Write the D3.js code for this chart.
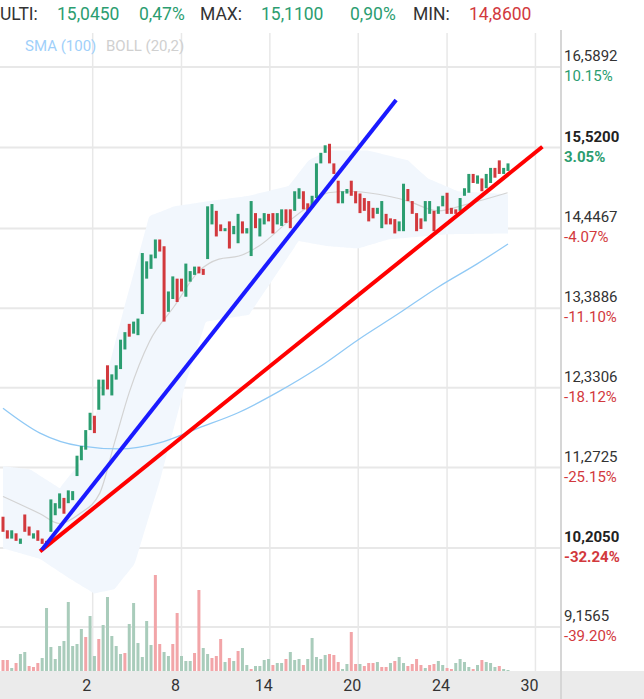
<!DOCTYPE html>
<html><head><meta charset="utf-8">
<script src="https://cdn.jsdelivr.net/npm/d3@7"></script>
<style>body{margin:0;background:#fff;font-family:Roboto,"Noto Sans",sans-serif}</style>
</head><body>
<svg id="c" width="644" height="699"></svg>
<script>
const opens=[10.62,10.44,10.33,10.40,10.26,10.65,10.49,10.33,10.44,10.33,10.30,10.42,10.64,10.73,10.87,10.80,10.84,11.16,11.37,11.51,11.77,11.96,12.04,12.23,12.63,12.23,12.44,12.58,12.84,13.18,13.05,13.03,13.31,13.78,13.91,14.05,14.30,14.21,13.34,13.51,13.78,13.78,13.54,13.74,13.83,13.94,13.91,14.04,14.50,14.68,14.50,14.41,14.54,14.37,14.25,14.54,14.38,14.08,14.65,14.34,14.50,14.64,14.65,14.50,14.48,14.70,14.70,14.68,14.84,14.94,14.78,14.72,14.85,15.31,15.45,15.57,15.31,15.08,14.78,14.91,15.08,14.94,14.91,14.85,14.81,14.72,14.64,14.45,14.64,14.58,14.57,14.41,14.41,14.97,14.81,14.65,14.58,14.54,14.64,14.68,14.64,14.74,14.92,14.72,14.70,14.68,14.88,14.92,15.17,15.04,15.11,14.98,15.05,15.25,15.35,15.17,15.21];
const closes=[10.42,10.33,10.44,10.30,10.33,10.42,10.37,10.40,10.30,10.26,10.24,10.85,10.80,10.93,10.66,10.97,10.96,11.43,11.56,11.77,12.00,11.73,12.44,12.44,12.31,12.51,12.63,12.97,13.07,13.01,13.21,13.25,14.12,14.01,14.10,14.30,14.14,13.21,13.61,13.81,13.47,13.61,13.98,13.88,13.94,13.85,13.83,14.74,14.77,14.34,14.41,14.45,14.18,14.48,14.64,14.38,14.45,14.81,14.45,14.58,14.65,14.54,14.38,14.65,14.70,14.52,14.45,14.94,14.98,14.70,14.68,14.88,15.31,15.45,15.55,15.31,15.17,14.78,14.94,14.97,14.88,14.78,14.65,14.68,14.54,14.58,14.72,14.81,14.50,14.50,14.38,14.54,15.04,14.81,14.64,14.41,14.44,14.81,14.81,14.41,14.74,14.88,14.64,14.64,14.64,14.85,14.98,15.17,15.05,15.15,14.94,15.17,15.25,15.12,15.17,15.25,15.31];
const volumes=[11,11,3,8,17,19,5,4,8,13,63,24,12,25,30,69,25,27,42,34,55,15,32,46,74,35,25,17,18,47,68,28,14,50,26,96,27,19,15,27,58,15,10,10,18,81,23,17,13,15,32,9,13,10,20,23,6,2,5,
5,11,12,6,8,8,12,19,11,12,6,12,33,14,12,16,17,16,9,2,7,39,7,7,5,8,8,9,4,4,8,10,14,8,5,7,12,6,3,6,7,10,6,3,2,8,12,9,4,2,6,11,9,8,4,5,2,1];
const volDir="rrgrggrrrggggggggggrggrgggggrggggggrrggrrgggrrggrrrgrgrggrgg"+"ggrggrgggrgggggrrrggrrgrrrgrrgrggrrrrgrrggrrggggrgrgggrggg";
const smaKnots=[[0,12.06],[8.5,11.73],[17.6,11.56],[26.7,11.52],[35.9,11.60],[45,11.80],[54,12.00],[63,12.27],[72.5,12.60],[81.6,12.97],[90.7,13.31],[100,13.67],[109,13.98],[116,14.24]];
const bollMid=[[0,10.89],[8.5,10.66],[13,10.53],[17.6,10.66],[22.2,10.93],[25.6,11.60],[29,12.27],[33.6,12.94],[39.3,13.41],[45,13.88],[49.6,14.04],[54.2,14.08],[58.7,14.21],[65.6,14.54],[70.2,14.74],[74.7,14.92],[79.3,14.94],[86.2,14.90],[93,14.81],[99.9,14.68],[106.7,14.77],[115.9,14.92]];
const bollUp=[[0,11.29],[6.2,11.25],[13,11.00],[17.6,11.33],[22.2,12.14],[27.9,13.41],[33.6,14.61],[39.3,14.74],[47.3,14.81],[56.5,14.88],[65.6,15.01],[70.2,15.35],[74.7,15.48],[83.9,15.48],[93,15.35],[97.6,15.11],[104.5,14.94],[115.9,14.90]];
const bollLow=[[0,10.20],[8.5,10.06],[15.3,9.80],[21,9.60],[25.6,9.66],[30.2,9.99],[35.9,11.07],[42,12.40],[46.6,13.21],[56.5,13.30],[63.3,13.88],[67.9,14.28],[74.7,14.21],[81.6,14.18],[88.5,14.30],[102.2,14.37],[115.9,14.38]];
const blueLine=[[8.9,10.18],[90.3,16.15]];
const redLine=[[8.5,10.16],[123.9,15.53]];
const yTicks=[16.5892,15.52,14.4467,13.3886,12.3306,11.2725,10.2050,9.1565];
const yTickLabels=["16,5892","15,5200","14,4467","13,3886","12,3306","11,2725","10,2050","9,1565"];
const pctLabels=["10.15%","3.05%","-4.07%","-11.10%","-18.12%","-25.15%","-32.24%","-39.20%"];
const boldTicks=[1,6];
const xTickIdx=[20.6,41,61.3,81.6,102,122.3];
const xTickLabels=["2","8","14","20","24","30"];

const svg=d3.select("#c");
const x=d3.scaleLinear().domain([0,116]).range([3,508]);
const y=d3.scaleLinear().domain([9.1565,16.5892]).range([627,67]);
const v=d3.scaleLinear().domain([0,100]).range([671,571]);
const G="#2b9d70",R="#d2393d";

// bottom strip
svg.append("rect").attr("x",0).attr("y",671).attr("width",644).attr("height",28).attr("fill","#ebebeb");
// grid
svg.selectAll(".hg").data(yTicks).join("line").attr("x1",0).attr("x2",561).attr("y1",d=>y(d)).attr("y2",d=>y(d)).attr("stroke","#e8e8e8").attr("stroke-width",2);
svg.selectAll(".vg").data(xTickIdx).join("line").attr("x1",d=>x(d)).attr("x2",d=>x(d)).attr("y1",33).attr("y2",671).attr("stroke","#e8e8e8").attr("stroke-width",1.5);
svg.append("line").attr("x1",561).attr("x2",561).attr("y1",30).attr("y2",699).attr("stroke","#d6d6d6").attr("stroke-width",2);

// bollinger
const upI=d3.scaleLinear().domain(bollUp.map(d=>d[0])).range(bollUp.map(d=>d[1]));
const loI=d3.scaleLinear().domain(bollLow.map(d=>d[0])).range(bollLow.map(d=>d[1]));
const idxs=d3.range(0,116.01,0.5);
svg.append("path").datum(idxs).attr("fill","#f2f7fd")
 .attr("d",d3.area().x(d=>x(d)).y0(d=>y(loI(d))).y1(d=>y(upI(d))).curve(d3.curveMonotoneX));
svg.append("path").datum(bollMid).attr("fill","none").attr("stroke","#d3d3d3").attr("stroke-width",1.2)
 .attr("d",d3.line().x(d=>x(d[0])).y(d=>y(d[1])).curve(d3.curveMonotoneX));
svg.append("path").datum(smaKnots).attr("fill","none").attr("stroke","#90c9f5").attr("stroke-width",1.3)
 .attr("d",d3.line().x(d=>x(d[0])).y(d=>y(d[1])).curve(d3.curveMonotoneX));

// volume
svg.selectAll(".vol").data(volumes).join("rect").attr("x",(d,i)=>x(i)-1.5).attr("width",3)
 .attr("y",d=>v(d)).attr("height",d=>v(0)-v(d)).attr("fill",(d,i)=>volDir[i]==="r"?"#f2a5a8":"#a9ccbb");

// candles
svg.selectAll(".cd").data(opens).join("rect").attr("x",(d,i)=>x(i)-1.5).attr("width",3)
 .attr("y",(d,i)=>y(Math.max(d,closes[i]))).attr("height",(d,i)=>Math.max(1.5,Math.abs(y(d)-y(closes[i]))))
 .attr("fill",(d,i)=>closes[i]>=d?G:R);

// trend lines
const tl=d3.line().x(d=>x(d[0])).y(d=>y(d[1]));
svg.append("path").datum(redLine).attr("d",tl).attr("stroke","#ff0000").attr("stroke-width",4).attr("fill","none");
svg.append("path").datum(blueLine).attr("d",tl).attr("stroke","#1a1aff").attr("stroke-width",4).attr("fill","none");

// right axis labels
yTicks.forEach((t,i)=>{
 const b=boldTicks.includes(i);
 svg.append("text").attr("x",564).attr("y",y(t)-6).attr("font-size",15).attr("fill",b?"#222":"#333").attr("font-weight",b?"bold":"normal").text(yTickLabels[i]);
 svg.append("text").attr("x",564).attr("y",y(t)+14).attr("font-size",15).attr("fill",pctLabels[i][0]==="-"?R:G).attr("font-weight",b?"bold":"normal").text(pctLabels[i]);
});
// x labels
svg.selectAll(".xl").data(xTickIdx).join("text").attr("x",d=>x(d)-6).attr("y",691).attr("text-anchor","middle").attr("font-size",16).attr("fill","#333").text((d,i)=>xTickLabels[i]);

// header
const hdr=svg.append("text").attr("y",20).attr("font-size",17.5);
[["ULTI:  ","#333"],["15,0450   ",G],["0,47%   ",G],["MAX:  ","#333"],["15,1100   ",G],["0,90%   ",G],["MIN:  ","#333"],["14,8600",R]].forEach(([t,c],i)=>{
 hdr.append("tspan").attr("x",[0,57,139,200,261,350,413,469][i]).attr("fill",c).text(t.trim());
});
svg.append("text").attr("x",25).attr("y",51).attr("font-size",15).attr("fill","#9fd0fa").text("SMA (100)");
svg.append("text").attr("x",106).attr("y",51).attr("font-size",15).attr("fill","#d0d0d0").text("BOLL (20,2)");
</script></body></html>
